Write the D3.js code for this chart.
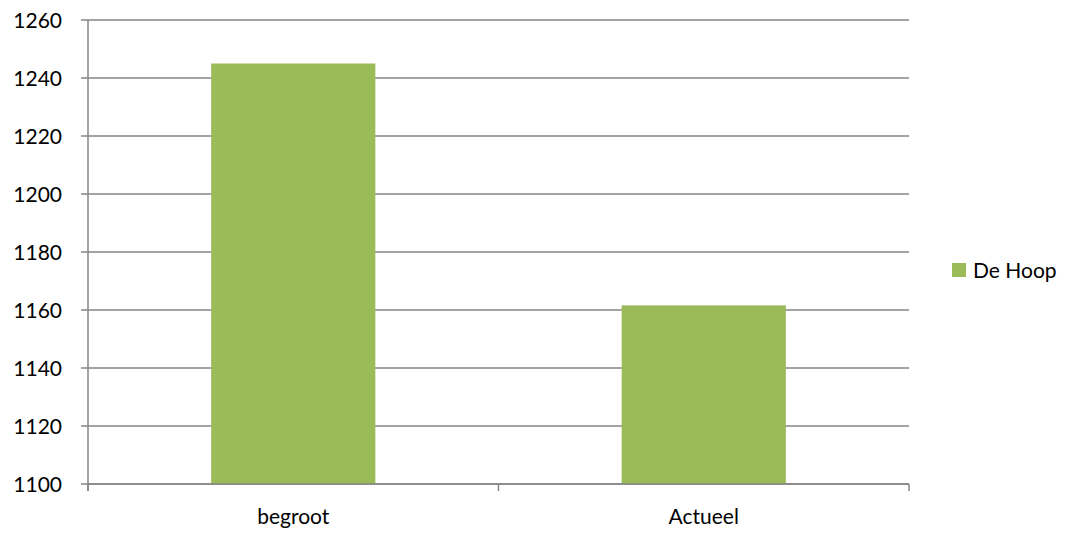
<!DOCTYPE html>
<html>
<head>
<meta charset="utf-8">
<script src="https://cdn.jsdelivr.net/npm/d3@7"></script>
<style>
  body { margin: 0; background: #fff; }
  text { font-family: Lato, "Open Sans", sans-serif; fill: #000; }
</style>
</head>
<body>
<div id="chart"></div>
<script>
const categories = ["begroot", "Actueel"];
const values = [1245, 1161.6];
const seriesName = "De Hoop";
const yTicks = [1100, 1120, 1140, 1160, 1180, 1200, 1220, 1240, 1260];

const width = 1068;
const height = 533;
const plotLeft = 88, plotRight = 909, plotTop = 20, plotBottom = 484;
const barColor = "#9BBB59";
const gridColor = "#868686";
const fontSize = "21px";

const svg = d3.select("#chart")
  .append("svg")
  .attr("width", width)
  .attr("height", height);

const x = d3.scaleBand()
  .domain(categories)
  .range([plotLeft, plotRight])
  .padding(0);

const y = d3.scaleLinear()
  .domain([1100, 1260])
  .range([plotBottom, plotTop]);

// gridlines
svg.append("g")
  .selectAll("line")
  .data(yTicks)
  .enter().append("line")
  .attr("x1", plotLeft - 7)
  .attr("x2", plotRight)
  .attr("y1", d => y(d))
  .attr("y2", d => y(d))
  .attr("stroke", gridColor)
  .attr("stroke-width", 1.5);

// y labels
svg.append("g")
  .selectAll("text")
  .data(yTicks)
  .enter().append("text")
  .attr("x", 62)
  .attr("y", d => y(d))
  .attr("dy", "0.36em")
  .attr("text-anchor", "end")
  .style("font-size", fontSize)
  .text(d => d);

// bars
const barW = x.bandwidth() * 0.4;
svg.append("g")
  .selectAll("rect")
  .data(values)
  .enter().append("rect")
  .attr("x", (d, i) => x(categories[i]) + x.bandwidth() / 2 - barW / 2)
  .attr("y", d => y(d))
  .attr("width", barW)
  .attr("height", d => y(1100) - y(d))
  .attr("fill", barColor);

// axes lines
svg.append("line")
  .attr("x1", plotLeft).attr("x2", plotLeft)
  .attr("y1", plotTop).attr("y2", plotBottom + 7)
  .attr("stroke", gridColor).attr("stroke-width", 1.5);
svg.append("line")
  .attr("x1", plotLeft).attr("x2", plotRight)
  .attr("y1", plotBottom).attr("y2", plotBottom)
  .attr("stroke", gridColor).attr("stroke-width", 1.5);

// category ticks
const catTicks = categories.map(c => x(c)).concat([plotRight]);
svg.append("g")
  .selectAll("line")
  .data(catTicks)
  .enter().append("line")
  .attr("x1", d => d).attr("x2", d => d)
  .attr("y1", plotBottom).attr("y2", plotBottom + 7)
  .attr("stroke", gridColor).attr("stroke-width", 1.5);

// category labels
svg.append("g")
  .selectAll("text")
  .data(categories)
  .enter().append("text")
  .attr("x", d => x(d) + x.bandwidth() / 2)
  .attr("y", 524)
  .attr("text-anchor", "middle")
  .style("font-size", fontSize)
  .text(d => d);

// legend
svg.append("rect")
  .attr("x", 952).attr("y", 263)
  .attr("width", 14).attr("height", 14)
  .attr("fill", barColor);
svg.append("text")
  .attr("x", 973).attr("y", 278)
  .style("font-size", fontSize)
  .text(seriesName);
</script>
</body>
</html>
